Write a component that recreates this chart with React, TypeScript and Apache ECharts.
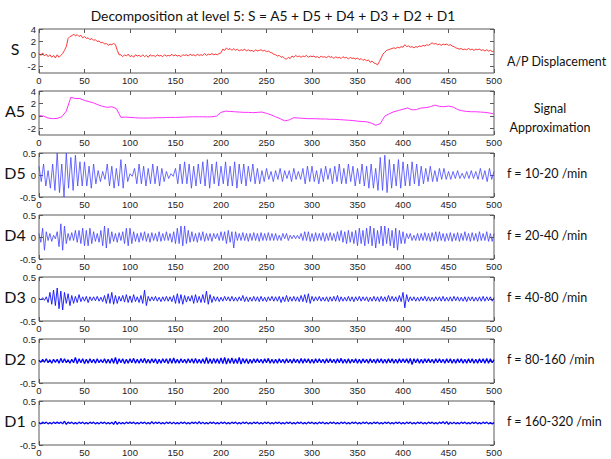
import React, { useEffect, useRef } from "react";
import * as echarts from "echarts";

// ---------- data ----------
const X_MIN = 0;
const X_MAX = 500;
const X_TICK = 50;

// S : original signal, one value every 2 samples (x = 0, 2, ..., 500)
const S_STEP = 2;
const S_VALUES = [
  0.1, -0.2, 0.2, -0.3, 0.0, -0.4, -0.1, -0.5, -0.2, -0.6, -0.1, -0.5, -0.2,
  0.1, 0.6, 1.2, 2.5, 2.8,
  2.9, 3.2, 2.9, 3.1, 2.8, 3.0,
  2.6, 2.8, 2.5, 2.6, 2.3, 2.5, 2.2, 2.3, 2.0, 2.1, 1.8, 1.9, 1.6, 1.7, 1.4, 1.6, 1.5, 1.7,
  1.5, 0.6, -0.1,
  -0.1, -0.4, -0.1, -0.3, 0.0, -0.4, -0.2, -0.5, -0.1, -0.3,
  -0.2, -0.4, -0.1, -0.4, -0.2, -0.5, -0.1, -0.3, -0.2, -0.4,
  -0.1, -0.3, -0.2, -0.4, -0.1, -0.3, -0.2, -0.3, 0.0, -0.3,
  -0.1, -0.3, -0.2, -0.4, -0.1, -0.2, -0.1, -0.3, 0.0, -0.2,
  -0.1, -0.3, 0.0, -0.2, -0.1, -0.2, 0.1, -0.2, 0.0, -0.1,
  0.1, -0.1, 0.0, -0.1, 0.1,
  0.2, 0.8, 0.6, 1.0, 0.7, 0.9, 0.6, 0.9,
  0.6, 0.8, 0.5, 0.7, 0.6, 0.8, 0.5, 0.7, 0.5, 0.6, 0.4, 0.7, 0.5, 0.6, 0.7, 0.5, 0.6, 0.4,
  0.5, 0.3, 0.2, 0.0, -0.1, -0.3, -0.2, -0.5, -0.4, -0.7, -0.8,
  -0.5, -0.7, -0.3, -0.5, -0.2, -0.4, -0.3, -0.5, -0.3, -0.4, -0.2, -0.5, -0.3, -0.4,
  -0.3, -0.5, -0.4, -0.6, -0.3, -0.5, -0.4, -0.6, -0.3, -0.5, -0.4, -0.7, -0.4, -0.6, -0.5,
  -0.7, -0.4, -0.6, -0.5, -0.8, -0.5, -0.7, -0.6, -0.8, -0.6,
  -0.9, -0.7, -1.0, -0.8, -1.1, -0.9, -1.3, -1.1, -1.4, -1.5, -1.7,
  -1.2, -0.6, 0.0, 0.3, 0.6, 0.7, 0.8, 0.9,
  1.0, 0.9, 1.1, 1.0, 1.2, 1.1,
  1.5, 1.2, 1.3, 1.1, 1.2, 1.0, 1.2, 1.1, 1.3, 1.2, 1.4, 1.3, 1.5, 1.4, 1.6,
  1.8, 1.6, 1.7, 1.5, 1.6, 1.4, 1.6, 1.5, 1.6, 1.4, 1.5, 1.3, 1.2,
  1.0, 0.9, 0.8, 0.9, 0.7, 0.8, 0.7, 0.9, 0.7, 0.8, 0.6, 0.8, 0.7, 0.8, 0.6, 0.7, 0.5, 0.7,
  0.5, 0.6, 0.4, 0.5,
];

// A5 : approximation, one value every 5 samples
const A5_STEP = 5;
const A5_VALUES = [
  0.1, 0.0, -0.3, -0.4, -0.35, -0.1, 0.8, 3.0, 2.8, 2.8,
  2.5, 2.3, 2.1, 1.8, 1.55, 1.4, 1.5, 1.2, -0.2, -0.15,
  -0.2, -0.25, -0.3, -0.3, -0.3, -0.28, -0.25, -0.25, -0.22, -0.2,
  -0.2, -0.18, -0.15, -0.12, -0.1, -0.1, -0.1, -0.12, -0.1, 0.0,
  0.6, 0.8, 0.75, 0.7, 0.65, 0.6, 0.6, 0.55, 0.6, 0.65,
  0.45, 0.2, -0.1, -0.4, -0.75, -0.6, -0.25, -0.3, -0.35, -0.4,
  -0.4, -0.42, -0.45, -0.45, -0.5, -0.5, -0.55, -0.6, -0.65, -0.7,
  -0.8, -0.85, -0.9, -1.1, -1.45, -1.2, 0.0, 0.4, 0.7, 0.9,
  1.1, 1.3, 1.0, 1.05, 1.3, 1.35, 1.5, 1.75, 1.55, 1.5,
  1.6, 1.45, 1.05, 0.85, 0.75, 0.7, 0.7, 0.65, 0.6, 0.5,
  0.35,
];

// D5 : detail level 5, one value every 2.5 samples
const D5_STEP = 2.5;
const D5_VALUES = [
  .2, -.15, .25, -.25, .1, -.3, .25, -.35, .5, -.4,
  .25, -.5, .5, -.3, .4, -.35, .45, -.25, .3, -.25,
  .3, -.25, .2, -.3, .25, -.2, .1, -.15, .08, -.1,
  .25, -.25, .2, -.3, .15, -.25, .35, -.3, .25, -.15,
  .03, -.03, .15, -.2, .25, -.2, .2, -.25, .15, -.2,
  .25, -.2, .2, -.25, .15, -.15, .08, -.08, .03, -.03,
  .15, -.2, .25, -.2, .3, -.2, .25, -.3, .2, -.25,
  .25, -.2, .3, -.25, .35, -.3, .25, -.2, .3, -.25,
  .2, -.2, .3, -.25, .2, -.25, .3, -.3, .25, -.2,
  .25, -.25, .2, -.15, .25, -.2, .15, -.2, .1, -.15,
  .15, -.1, .08, -.15, .1, -.1, .15, -.15, .1, -.08,
  .1, -.15, .15, -.1, .08, -.1, .15, -.2, .2, -.15,
  .2, -.15, .1, -.2, .15, -.15, .2, -.1, .15, -.2,
  .2, -.15, .25, -.2, .15, -.2, .25, -.15, .2, -.25,
  .15, -.2, .25, -.25, .2, -.3, .25, -.3, .15, -.35,
  .4, -.35, .45, -.4, .35, -.3, .25, -.25, .35, -.3,
  .3, -.25, .25, -.25, .3, -.2, .25, -.25, .2, -.2,
  .15, -.15, .2, -.15, .1, -.15, .15, -.1, .15, -.1,
  .08, -.1, .08, -.08, .1, -.08, .04, -.08, .08, -.08,
  .1, -.08, .08, -.1, .15, -.1, .1, -.15, .15, -.1,
  .08,
];

// D4 .. D1 : one value every 2 samples
const D_STEP = 2;
const D4_VALUES = [
  .08, -.12, .2, -.3, .12, -.08, .08, -.1, .04, -.04,
  .12, -.22, .3, -.3, .25, -.15, .08, -.08, .1, -.08,
  .15, -.12, .15, -.15, .2, -.2, .15, -.2, .2, -.15,
  .12, -.1, .08, -.12, .15, -.2, .25, -.25, .2, -.15,
  .12, -.1, .08, -.12, .1, -.08, .12, -.15, .2, -.2,
  .2, -.15, .12, -.1, .08, -.12, .1, -.08, .12, -.1,
  .08, -.12, .1, -.08, .08, -.1, .12, -.1, .08, -.08,
  .12, -.08, .08, -.12, .12, -.15, .2, -.15, .25, -.2,
  .25, -.15, .15, -.12, .12, -.1, .08, -.12, .1, -.08,
  .12, -.1, .08, -.08, .08, -.1, .08, -.04, .08, -.08,
  .12, -.08, .12, -.15, .15, -.12, .12, -.25, .12, -.08,
  .08, -.08, .1, -.08, .08, -.1, .08, -.08, .1, -.08,
  .08, -.1, .1, -.08, .08, -.08, .1, -.08, .08, -.08,
  .08, -.08, .04, -.08, .08, -.04, .08, -.08, .04, -.04,
  .04, -.04, .04, -.04, .08, -.08, .12, -.08, .12, -.1,
  .08, -.1, .1, -.08, .08, -.08, .1, -.1, .08, -.08,
  .1, -.08, .08, -.1, .12, -.08, .15, -.12, .12, -.15,
  .15, -.12, .12, -.15, .15, -.2, .2, -.15, .15, -.2,
  .2, -.15, .25, -.2, .2, -.25, .15, -.15, .25, -.2,
  .25, -.15, .2, -.2, .15, -.25, .2, -.3, .15, -.15,
  .12, -.15, .08, -.04, .08, -.08, .04, -.08, .08, -.08,
  .08, -.08, .1, -.08, .08, -.1, .1, -.08, .12, -.1,
  .12, -.08, .08, -.1, .08, -.08, .1, -.1, .08, -.08,
  .1, -.1, .08, -.08, .12, -.08, .08, -.1, .1, -.08,
  .08, -.1, .12, -.08, .08, -.08, .12, -.1, .08, -.1,
  .08,
];

const D3_VALUES = [
  .02, -.02, .03, -.03, .05, -.08, .15, -.12, .2, -.15,
  .25, -.22, .18, -.25, .15, -.1, .12, -.15, .08, -.1,
  .06, -.08, .1, -.06, .05, -.05, .06, -.08, .05, -.04,
  .05, -.04, .06, -.05, .04, -.06, .08, -.1, .12, -.1,
  .15, -.12, .08, -.1, .06, -.05, .08, -.07, .1, -.08,
  .07, -.08, .1, -.06, .05, -.08, .08, -.1, .2, -.15,
  .06, -.05, .05, -.04, .06, -.05, .04, -.06, .05, -.05,
  .06, -.05, .05, -.06, .08, -.1, .12, -.1, .1, -.12,
  .08, -.07, .06, -.05, .08, -.1, .1, -.08, .06, -.08,
  .1, -.08, .18, -.12, .1, -.08, .06, -.05, .05, -.06,
  .04, -.05, .06, -.04, .05, -.05, .06, -.05, .04, -.05,
  .05, -.04, .08, -.06, .05, -.06, .04, -.05, .06, -.05,
  .05, -.06, .06, -.05, .04, -.06, .05, -.04, .06, -.05,
  .05, -.05, .06, -.08, .05, -.06, .08, -.06, .05, -.05,
  .06, -.05, .05, -.06, .08, -.06, .1, -.08, .12, -.1,
  .06, -.05, .05, -.04, .06, -.05, .04, -.05, .05, -.06,
  .05, -.05, .06, -.05, .08, -.06, .05, -.05, .04, -.05,
  .06, -.05, .05, -.06, .05, -.04, .06, -.05, .05, -.04,
  .05, -.06, .04, -.05, .06, -.05, .05, -.06, .06, -.05,
  .05, -.06, .08, -.05, .06, -.05, .05, -.06, .08, -.06,
  .15, -.2, .1, -.06, .05, -.04, .05, -.05, .04, -.05,
  .05, -.04, .06, -.05, .05, -.05, .04, -.05, .05, -.04,
  .05, -.05, .06, -.05, .04, -.05, .05, -.05, .06, -.04,
  .05, -.05, .04, -.05, .05, -.06, .05, -.04, .05, -.05,
  .04, -.05, .05, -.05, .06, -.05, .05, -.04, .05, -.05,
  .03,
];

const D2_VALUES = [
  .02, -.03, .04, -.03, .05, -.04, .03, -.05, .04, -.03,
  .04, -.05, .06, -.04, .05, -.04, .03, -.05, .04, -.04,
  .08, -.06, .05, -.04, .05, -.06, .04, -.05, .05, -.04,
  .04, -.05, .05, -.04, .03, -.04, .05, -.05, .04, -.05,
  .06, -.05, .08, -.07, .05, -.04, .05, -.06, .04, -.05,
  .05, -.04, .06, -.05, .04, -.05, .05, -.04, .06, -.05,
  .04, -.05, .05, -.04, .05, -.06, .04, -.05, .05, -.04,
  .05, -.06, .06, -.05, .07, -.05, .04, -.05, .05, -.04,
  .04, -.05, .05, -.04, .05, -.05, .06, -.05, .04, -.05,
  .05, -.06, .08, -.06, .05, -.06, .06, -.05, .05, -.06,
  .07, -.06, .08, -.07, .06, -.05, .07, -.06, .05, -.06,
  .08, -.07, .06, -.05, .05, -.06, .04, -.05, .05, -.04,
  .05, -.04, .04, -.05, .05, -.04, .06, -.05, .04, -.05,
  .04, -.05, .05, -.04, .04, -.05, .05, -.04, .04, -.05,
  .05, -.04, .04, -.05, .06, -.05, .05, -.04, .05, -.05,
  .04, -.05, .05, -.04, .05, -.04, .04, -.05, .05, -.04,
  .05, -.04, .04, -.05, .05, -.04, .06, -.05, .04, -.05,
  .05, -.05, .04, -.04, .05, -.05, .04, -.05, .05, -.04,
  .04, -.05, .05, -.04, .04, -.05, .05, -.04, .05, -.05,
  .04, -.05, .05, -.04, .05, -.05, .04, -.05, .05, -.04,
  .05, -.04, .05, -.05, .06, -.08, .05, -.04, .05, -.05,
  .04, -.05, .05, -.04, .05, -.04, .04, -.05, .05, -.04,
  .05, -.04, .04, -.05, .05, -.04, .05, -.05, .04, -.05,
  .05, -.04, .05, -.05, .04, -.05, .05, -.04, .05, -.05,
  .04, -.05, .05, -.04, .05, -.05, .06, -.05, .05, -.04,
  .03,
];

const D1_VALUES = [
  .01, -.02, .02, -.01, .02, -.02, .01, -.02, .02, -.01,
  .02, -.01, .02, -.02, .04, -.03, .02, -.01, .02, -.02,
  .01, -.02, .02, -.01, .02, -.02, .01, -.02, .02, -.01,
  .02, -.02, .01, -.02, .02, -.01, .02, -.02, .01, -.02,
  .02, -.03, .04, -.03, .02, -.02, .01, -.02, .02, -.01,
  .02, -.01, .02, -.02, .01, -.02, .02, -.01, .02, -.02,
  .01, -.02, .03, -.02, .02, -.01, .02, -.02, .01, -.02,
  .02, -.01, .02, -.02, .02, -.02, .01, -.02, .02, -.01,
  .02, -.02, .01, -.02, .02, -.01, .02, -.02, .03, -.02,
  .02, -.02, .01, -.02, .02, -.01, .02, -.02, .01, -.02,
  .02, -.01, .02, -.02, .01, -.02, .02, -.01, .02, -.02,
  .01, -.02, .02, -.01, .02, -.02, .01, -.02, .02, -.01,
  .02, -.02, .01, -.02, .02, -.01, .02, -.02, .01, -.02,
  .02, -.01, .02, -.02, .01, -.02, .02, -.01, .02, -.02,
  .01, -.02, .02, -.01, .02, -.02, .01, -.02, .02, -.01,
  .02, -.02, .01, -.02, .02, -.01, .02, -.02, .01, -.02,
  .02, -.01, .02, -.02, .01, -.02, .02, -.01, .02, -.02,
  .01, -.02, .02, -.01, .02, -.02, .01, -.02, .02, -.01,
  .02, -.02, .01, -.02, .02, -.01, .02, -.02, .01, -.02,
  .02, -.01, .02, -.02, .01, -.02, .02, -.01, .02, -.02,
  .01, -.02, .02, -.01, .02, -.02, .01, -.02, .02, -.01,
  .02, -.02, .01, -.02, .02, -.01, .02, -.02, .01, -.02,
  .02, -.01, .03, -.02, .03, -.03, .02, -.02, .02, -.02,
  .01, -.02, .02, -.01, .02, -.02, .01, -.02, .02, -.01,
  .02, -.02, .01, -.02, .02, -.01, .02, -.02, .01, -.02,
  .01,
];

const SIGNAL_TICKS = [-2, 0, 2, 4];
const DETAIL_TICKS = [-0.5, 0, 0.5];

const TITLE = "Decomposition at level 5: S = A5 + D5 + D4 + D3 + D2 + D1";

const PANELS = [
  { name: "S", values: S_VALUES, step: S_STEP, ymin: -3, ymax: 4, ticks: SIGNAL_TICKS, note: ["A/P Displacement"] },
  { name: "A5", values: A5_VALUES, step: A5_STEP, ymin: -3, ymax: 4, ticks: SIGNAL_TICKS, note: ["Signal", "Approximation"] },
  { name: "D5", values: D5_VALUES, step: D5_STEP, ymin: -0.5, ymax: 0.5, ticks: DETAIL_TICKS, note: ["f = 10-20 /min"] },
  { name: "D4", values: D4_VALUES, step: D_STEP, ymin: -0.5, ymax: 0.5, ticks: DETAIL_TICKS, note: ["f = 20-40 /min"] },
  { name: "D3", values: D3_VALUES, step: D_STEP, ymin: -0.5, ymax: 0.5, ticks: DETAIL_TICKS, note: ["f = 40-80 /min"] },
  { name: "D2", values: D2_VALUES, step: D_STEP, ymin: -0.5, ymax: 0.5, ticks: DETAIL_TICKS, note: ["f = 80-160 /min"] },
  { name: "D1", values: D1_VALUES, step: D_STEP, ymin: -0.5, ymax: 0.5, ticks: DETAIL_TICKS, note: ["f = 160-320 /min"] },
];

// ---------- layout / styles ----------
const W = 611;
const H = 459;
const LEFT = 39;
const PLOT_W = 455;
const TOP0 = 29;
const GAP = 62;
const PLOT_H = 44;
const FRAME = "#5a5a5a";
const TICK_FONT = '"Liberation Sans", Arial, sans-serif';
const TEXT_FONT = 'Lato, "Open Sans", sans-serif';
const LINE_COLORS = ["#ff2020", "#ff30ff", "#4646ff", "#4040ff", "#1010ff", "#0000ff", "#0000ff"];
const LINE_WIDTHS = [0.9, 1, 0.8, 0.8, 0.9, 1.3, 1.3];

export default function App() {
  const ref = useRef<HTMLDivElement>(null);

  useEffect(() => {
    if (!ref.current) return;
    const chart = echarts.init(ref.current, null, { renderer: "svg" });

    const grids: any[] = [];
    const xAxes: any[] = [];
    const yAxes: any[] = [];
    const series: any[] = [];
    const graphics: any[] = [];

    const tick = { show: true, inside: true, length: 4, lineStyle: { color: FRAME, width: 1 } };

    PANELS.forEach((p, i) => {
      const top = TOP0 + i * GAP;
      grids.push({
        left: LEFT,
        top,
        width: PLOT_W,
        height: PLOT_H,
        show: true,
        borderColor: FRAME,
        borderWidth: 1,
        backgroundColor: "#ffffff",
      });
      const xBase = {
        gridIndex: i,
        type: "value",
        min: X_MIN,
        max: X_MAX,
        interval: X_TICK,
        axisLine: { show: false, onZero: false },
        splitLine: { show: false },
        axisTick: tick,
      };
      xAxes.push({
        ...xBase,
        position: "bottom",
        axisLabel: { fontSize: 9.5, color: "#222", margin: 2, fontFamily: TICK_FONT },
      });
      xAxes.push({ ...xBase, position: "top", axisLabel: { show: false } });

      const yBase = {
        gridIndex: i,
        type: "value",
        min: p.ymin,
        max: p.ymax,
        axisLine: { show: false, onZero: false },
        splitLine: { show: false },
        axisTick: { ...tick, customValues: p.ticks },
      };
      yAxes.push({
        ...yBase,
        position: "left",
        axisLabel: { customValues: p.ticks, fontSize: 9.5, color: "#222", margin: 3, fontFamily: TICK_FONT },
      });
      yAxes.push({ ...yBase, position: "right", axisLabel: { show: false } });

      series.push({
        type: "line",
        xAxisIndex: 2 * i,
        yAxisIndex: 2 * i,
        data: p.values.map((v, k) => [k * p.step, v]),
        showSymbol: false,
        symbol: "none",
        silent: true,
        clip: true,
        lineStyle: { color: LINE_COLORS[i], width: LINE_WIDTHS[i] },
      });

      const mid = top + PLOT_H / 2;
      graphics.push({
        type: "text",
        x: 15,
        y: mid - 3,
        style: {
          text: p.name,
          font: `16px ${TEXT_FONT}`,
          fill: "#111",
          textAlign: "center",
          textVerticalAlign: "middle",
        },
      });
      if (p.note.length === 1) {
        graphics.push({
          type: "text",
          x: 507,
          y: i === 0 ? mid + 10 : mid - 2,
          style: {
            text: p.note[0],
            font: `12.5px ${TEXT_FONT}`,
            fill: "#111",
            textAlign: "left",
            textVerticalAlign: "middle",
          },
        });
      } else {
        p.note.forEach((t, k) => {
          graphics.push({
            type: "text",
            x: 550,
            y: mid - 5 + k * 19,
            style: {
              text: t,
              font: `12.5px ${TEXT_FONT}`,
              fill: "#111",
              textAlign: "center",
              textVerticalAlign: "middle",
            },
          });
        });
      }
    });

    graphics.push({
      type: "text",
      x: 273,
      y: 15,
      style: {
        text: TITLE,
        font: `13.8px ${TEXT_FONT}`,
        fill: "#111",
        textAlign: "center",
        textVerticalAlign: "middle",
      },
    });

    chart.setOption({
      animation: false,
      backgroundColor: "#ffffff",
      grid: grids,
      xAxis: xAxes,
      yAxis: yAxes,
      series,
      graphic: graphics,
    });

    return () => chart.dispose();
  }, []);

  return (
    <div
      ref={ref}
      style={{ position: "fixed", left: 0, top: 0, width: W, height: H }}
    />
  );
}
